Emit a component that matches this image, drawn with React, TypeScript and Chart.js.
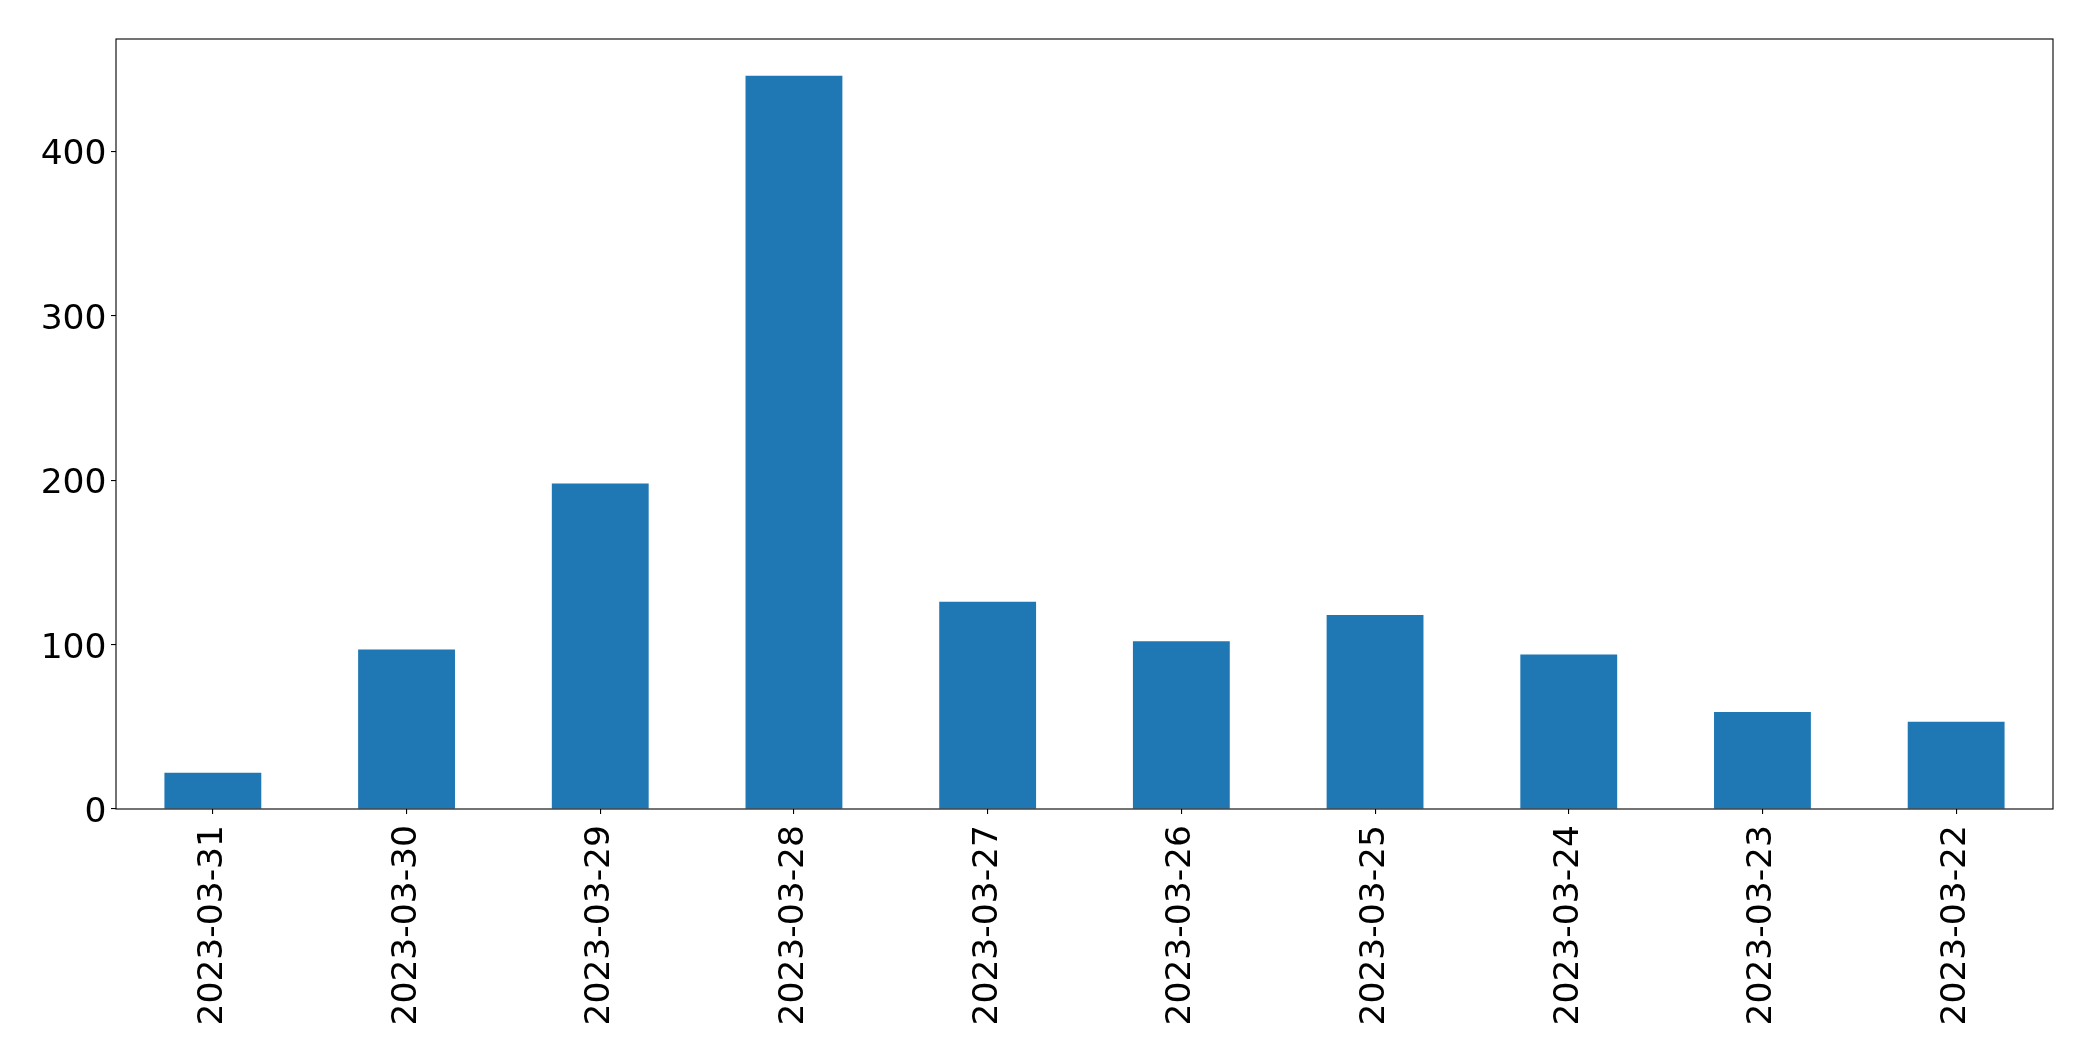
import React, { useEffect, useRef } from "react";
import { Chart, registerables } from "chart.js";

Chart.register(...registerables);

const categories: string[] = [
  "2023-03-31",
  "2023-03-30",
  "2023-03-29",
  "2023-03-28",
  "2023-03-27",
  "2023-03-26",
  "2023-03-25",
  "2023-03-24",
  "2023-03-23",
  "2023-03-22",
];

const counts: number[] = [22, 97, 198, 446, 126, 102, 118, 94, 59, 53];

const yTicks: number[] = [0, 100, 200, 300, 400];

const W = 2093;
const H = 1061;
const FONT = "'DejaVu Sans', sans-serif";
const FONT_SIZE = 34.5;

const framePlugin = {
  id: "frame",
  afterDatasetsDraw(chart: any) {
    const { ctx, chartArea } = chart;
    ctx.save();
    ctx.strokeStyle = "#000";
    ctx.lineWidth = 1.1;
    ctx.strokeRect(chartArea.left, chartArea.top, chartArea.right - chartArea.left, chartArea.bottom - chartArea.top);
    ctx.restore();
  },
};

export default function App() {
  const ref = useRef<HTMLCanvasElement | null>(null);

  useEffect(() => {
    if (!ref.current) return;
    const yMax = Math.max(...counts) * 1.05;
    const chart = new Chart(ref.current, {
      type: "bar",
      data: {
        labels: categories,
        datasets: [
          {
            data: counts,
            backgroundColor: "#1f77b4",
            borderWidth: 0,
            barPercentage: 0.5,
            categoryPercentage: 1.0,
          },
        ],
      },
      plugins: [framePlugin],
      options: {
        responsive: false,
        animation: false,
        events: [],
        layout: { padding: { top: 39, right: 40, left: 0, bottom: 0 } },
        plugins: {
          legend: { display: false },
          tooltip: { enabled: false },
          title: { display: false },
        },
        scales: {
          x: {
            type: "category",
            offset: true,
            border: { display: false },
            grid: {
              display: true,
              offset: false,
              drawOnChartArea: false,
              drawTicks: true,
              tickLength: 5,
              color: "#000",
              lineWidth: 1.1,
            },
            ticks: {
              autoSkip: false,
              minRotation: 90,
              maxRotation: 90,
              padding: 11,
              color: "#000",
              font: { family: FONT, size: FONT_SIZE },
            },
            afterFit: (scale: any) => {
              scale.height = H - 809;
            },
          },
          y: {
            type: "linear",
            min: 0,
            max: yMax,
            border: { display: false },
            grid: {
              display: true,
              drawOnChartArea: false,
              drawTicks: true,
              tickLength: 5,
              color: "#000",
              lineWidth: 1.1,
            },
            ticks: {
              includeBounds: false,
              stepSize: 100,
              padding: 4.5,
              labelOffset: 4,
              color: "#000",
              font: { family: FONT, size: FONT_SIZE },
            },
            afterBuildTicks: (scale: any) => {
              scale.ticks = yTicks.map((v) => ({ value: v }));
            },
            afterFit: (scale: any) => {
              scale.width = 116;
            },
          },
        },
      },
    } as any);
    return () => chart.destroy();
  }, []);

  return (
    <div style={{ position: "absolute", left: 0, top: 0, width: W, height: H, background: "#fff" }}>
      <canvas ref={ref} width={W} height={H} style={{ display: "block", width: W, height: H }} />
    </div>
  );
}
